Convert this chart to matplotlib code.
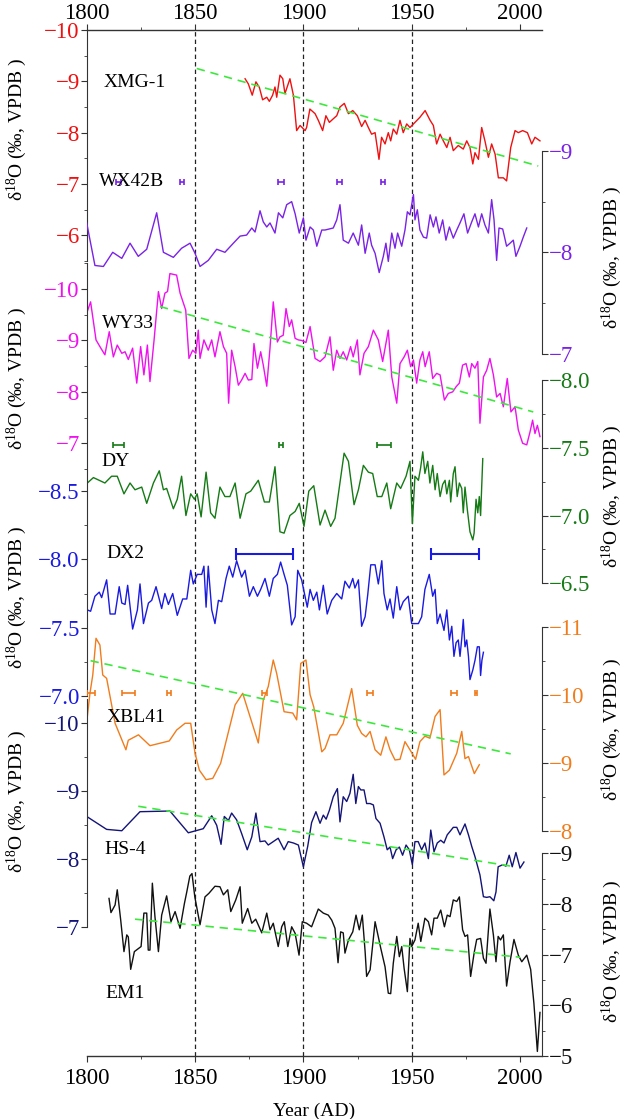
import matplotlib
matplotlib.use('Agg')
import matplotlib.pyplot as plt

plt.rcParams['font.family'] = ['Liberation Serif', 'DejaVu Serif']
plt.rcParams['mathtext.fontset'] = 'custom'
plt.rcParams['mathtext.rm'] = 'Liberation Serif'
plt.rcParams['mathtext.it'] = 'Liberation Serif:italic'

# ---------------------------------------------------------------- data
xmg_year = [1873.1, 1874.6, 1876.4, 1878.1, 1879.7, 1881.2, 1883.1, 1884.3, 1885.8, 1886.9,
            1887.7, 1889.2, 1890.5, 1891.5, 1893.8, 1895.4, 1896.9, 1898.5, 1900.8, 1901.5,
            1903.0, 1905.4, 1906.9, 1908.9, 1910.4, 1912.0, 1913.8, 1915.4, 1916.9, 1918.9,
            1920.8, 1922.8, 1924.9, 1926.9, 1928.5, 1930.0, 1931.5, 1933.1, 1934.9, 1936.1,
            1937.7, 1939.2, 1940.3, 1941.5, 1943.1, 1944.6, 1946.1, 1947.7, 1949.2, 1951.5,
            1953.8, 1956.2, 1958.5, 1960.0, 1961.5, 1963.1, 1964.6, 1966.2, 1967.7, 1969.2,
            1971.5, 1973.8, 1975.4, 1976.9, 1978.2, 1979.2, 1980.8, 1982.3, 1983.8, 1985.4,
            1986.9, 1988.5, 1990.0, 1992.3, 1993.8, 1995.7, 1997.7, 1999.2, 2001.2, 2003.4,
            2005.4, 2006.9, 2009.2]
xmg_d18o = [-9.05, -8.95, -8.73, -8.99, -8.88, -8.64, -8.69, -8.61, -8.73, -8.89,
            -8.69, -9.12, -9.05, -8.76, -9.05, -8.73, -8.04, -8.14, -8.04, -8.10,
            -8.46, -8.37, -8.24, -8.04, -8.33, -8.20, -8.27, -8.33, -8.50, -8.57,
            -8.37, -8.43, -8.33, -8.12, -8.24, -8.10, -7.97, -8.00, -7.48, -7.91,
            -7.78, -8.00, -7.84, -8.07, -7.97, -8.24, -8.00, -8.17, -8.10, -8.20,
            -8.30, -8.43, -8.24, -8.14, -7.78, -7.97, -7.84, -7.71, -7.91, -7.65,
            -7.75, -7.68, -7.84, -7.71, -7.39, -7.61, -7.48, -8.10, -7.84, -7.52,
            -7.78, -7.58, -7.12, -7.12, -7.06, -7.71, -8.04, -8.00, -8.04, -8.00,
            -7.78, -7.91, -7.84]

wx_year = [1800.0, 1803.8, 1807.7, 1812.0, 1816.2, 1820.0, 1823.8, 1827.7, 1832.3, 1835.4,
           1840.0, 1843.8, 1847.7, 1850.0, 1852.3, 1856.1, 1860.0, 1863.8, 1867.7, 1870.8,
           1873.8, 1876.2, 1877.7, 1880.0, 1881.5, 1883.1, 1884.6, 1886.9, 1888.5, 1890.5,
           1892.3, 1894.6, 1896.2, 1898.1, 1900.0, 1901.2, 1903.1, 1904.6, 1906.2, 1908.5,
           1910.0, 1913.8, 1915.4, 1916.9, 1918.4, 1920.8, 1923.0, 1925.4, 1926.9, 1928.5,
           1930.4, 1931.5, 1933.1, 1935.0, 1936.9, 1938.1, 1939.2, 1940.8, 1942.3, 1943.5,
           1945.4, 1946.9, 1948.0, 1949.2, 1950.8, 1951.5, 1952.6, 1953.8, 1955.4, 1956.9,
           1958.5, 1960.0, 1961.2, 1962.7, 1964.3, 1965.8, 1967.4, 1969.2, 1970.8, 1972.3,
           1974.1, 1975.8, 1977.7, 1979.2, 1980.8, 1982.3, 1983.8, 1985.4, 1986.9, 1988.0,
           1989.2, 1990.3, 1992.0, 1993.8, 1995.4, 1996.9, 1998.1, 2000.0, 2001.5, 2003.1]
wx_d18o = [-8.29, -7.87, -7.86, -8.00, -7.94, -8.09, -7.96, -8.03, -8.39, -8.00,
           -7.95, -8.04, -8.09, -7.99, -7.86, -7.92, -8.03, -8.00, -8.09, -8.16,
           -8.17, -8.24, -8.20, -8.41, -8.30, -8.25, -8.29, -8.19, -8.39, -8.34,
           -8.47, -8.50, -8.38, -8.19, -8.34, -8.12, -8.25, -8.22, -8.06, -8.22,
           -8.22, -8.24, -8.32, -8.47, -8.12, -8.09, -8.19, -8.07, -8.27, -7.99,
           -8.19, -8.07, -7.99, -7.80, -7.96, -8.09, -7.91, -8.19, -8.04, -8.19,
           -8.06, -8.22, -8.40, -8.37, -8.57, -8.32, -8.42, -8.22, -8.15, -8.14,
           -8.37, -8.25, -8.35, -8.19, -8.32, -8.12, -8.25, -8.14, -8.22, -8.29,
           -8.38, -8.19, -8.30, -8.38, -8.25, -8.38, -8.27, -8.19, -8.52, -8.32,
           -7.92, -8.24, -8.23, -8.06, -8.09, -8.12, -7.96, -8.06, -8.15, -8.24]

wy_year = [1800.0, 1801.8, 1804.3, 1806.1, 1808.4, 1810.4, 1812.3, 1814.1, 1816.2, 1817.7,
           1819.2, 1821.2, 1823.1, 1824.9, 1826.4, 1828.0, 1829.2, 1831.1, 1833.1, 1834.6,
           1836.1, 1837.3, 1838.4, 1841.5, 1843.1, 1845.7, 1847.2, 1848.9, 1850.4, 1851.5,
           1852.3, 1854.1, 1856.1, 1857.7, 1859.2, 1861.5, 1863.1, 1864.6, 1865.5, 1866.9,
           1868.5, 1870.0, 1871.5, 1873.1, 1874.6, 1876.2, 1877.2, 1878.8, 1880.3, 1881.5,
           1883.1, 1884.6, 1886.1, 1888.0, 1889.2, 1890.7, 1892.0, 1893.5, 1894.6, 1896.2,
           1897.7, 1899.2, 1901.2, 1903.1, 1905.4, 1907.7, 1910.0, 1912.3, 1913.8, 1915.4,
           1916.9, 1918.4, 1920.0, 1921.8, 1923.0, 1924.9, 1926.1, 1928.0, 1930.0, 1932.3,
           1934.6, 1936.6, 1939.2, 1940.8, 1943.1, 1944.6, 1946.5, 1948.0, 1949.5, 1950.8,
           1952.3, 1953.8, 1955.1, 1956.2, 1958.1, 1959.7, 1961.5, 1963.1, 1965.1, 1966.9,
           1968.9, 1970.5, 1972.0, 1973.5, 1975.1, 1976.6, 1977.7, 1979.2, 1980.5, 1981.5,
           1983.1, 1984.6, 1986.1, 1987.7, 1989.2, 1990.8, 1992.3, 1994.1, 1995.8, 1997.7,
           1999.2, 2001.2, 2003.1, 2004.6, 2005.8, 2006.9, 2008.0, 2009.2]
wy_d18o = [-9.53, -9.75, -9.01, -8.88, -8.72, -9.17, -8.68, -8.91, -8.75, -8.78,
           -8.63, -8.85, -8.17, -8.88, -8.33, -8.91, -8.20, -9.01, -9.95, -9.62,
           -9.92, -9.95, -10.30, -10.27, -9.92, -9.59, -8.65, -8.81, -8.75, -9.20,
           -8.65, -9.01, -8.81, -9.01, -8.68, -9.17, -8.88, -8.75, -7.78, -8.81,
           -8.49, -8.13, -8.23, -8.36, -8.23, -8.24, -8.94, -8.46, -8.78, -8.52,
           -8.11, -8.85, -9.75, -8.97, -9.07, -9.10, -9.62, -9.27, -9.40, -9.04,
           -9.01, -9.00, -8.96, -9.27, -8.65, -8.59, -8.68, -9.07, -8.42, -8.81,
           -8.65, -8.78, -8.62, -8.88, -8.68, -9.01, -8.33, -8.75, -8.88, -9.20,
           -9.01, -8.59, -9.20, -8.29, -7.78, -8.55, -8.68, -8.81, -8.49, -8.62,
           -8.17, -8.62, -8.78, -8.49, -8.78, -8.26, -8.36, -8.33, -7.84, -7.97,
           -8.00, -8.10, -8.17, -8.52, -8.55, -8.29, -8.55, -8.46, -8.59, -7.39,
           -8.29, -8.42, -8.65, -8.33, -7.90, -7.97, -7.71, -8.26, -7.61, -7.71,
           -7.26, -7.00, -6.97, -7.22, -7.45, -7.19, -7.35, -7.13]

dy_year = [1800.3, 1803.1, 1808.4, 1811.5, 1814.1, 1817.2, 1820.0, 1822.3, 1825.4, 1827.7,
           1830.8, 1833.5, 1835.4, 1836.9, 1840.0, 1841.8, 1843.8, 1845.8, 1848.0, 1849.7,
           1851.0, 1852.8, 1855.1, 1857.2, 1859.2, 1861.5, 1863.8, 1866.1, 1868.5, 1870.8,
           1873.5, 1875.7, 1879.2, 1882.0, 1884.3, 1886.9, 1889.2, 1891.1, 1893.8, 1896.2,
           1898.1, 1900.3, 1902.5, 1904.8, 1907.7, 1910.0, 1912.6, 1914.6, 1918.8, 1920.8,
           1923.4, 1925.4, 1927.7, 1930.0, 1932.0, 1934.1, 1936.2, 1938.5, 1940.3, 1943.1,
           1944.9, 1947.4, 1949.2, 1950.3, 1951.5, 1953.1, 1954.1, 1955.1, 1956.1, 1957.4,
           1958.4, 1959.7, 1960.8, 1961.8, 1963.1, 1964.3, 1965.4, 1966.2, 1967.4, 1968.0,
           1969.2, 1970.0, 1971.0, 1972.0, 1973.1, 1973.8, 1974.6, 1975.7, 1976.9, 1978.2,
           1978.8, 1979.7, 1980.5, 1981.2, 1981.8, 1982.8]
dy_d18o = [-7.24, -7.28, -7.24, -7.29, -7.29, -7.16, -7.24, -7.19, -7.21, -7.09,
           -7.24, -7.33, -7.19, -7.20, -7.05, -7.12, -7.29, -7.00, -7.16, -7.12,
           -7.16, -6.99, -7.32, -7.02, -6.98, -7.21, -7.14, -7.14, -7.24, -6.98,
           -7.16, -7.18, -7.26, -7.10, -7.10, -7.36, -6.88, -6.87, -7.00, -7.03,
           -7.09, -6.92, -7.18, -7.22, -6.93, -7.04, -6.92, -6.98, -7.46, -7.40,
           -7.08, -7.19, -7.37, -7.32, -7.31, -7.14, -7.14, -7.24, -7.05, -7.24,
           -7.20, -7.29, -7.40, -6.94, -7.29, -7.26, -7.35, -7.47, -7.31, -7.40,
           -7.24, -7.37, -7.19, -7.31, -7.14, -7.23, -7.26, -7.16, -7.26, -7.10,
           -7.31, -7.36, -7.14, -7.24, -7.20, -7.02, -7.21, -7.04, -6.88, -6.82,
           -6.87, -7.12, -7.02, -7.14, -7.00, -7.42]

dx_year = [1800.3, 1801.8, 1803.8, 1805.8, 1806.9, 1809.2, 1810.8, 1813.1, 1815.0, 1816.2,
           1817.7, 1818.9, 1821.2, 1823.4, 1824.6, 1826.2, 1828.5, 1830.0, 1832.0, 1834.6,
           1836.1, 1837.7, 1839.7, 1841.8, 1844.3, 1846.2, 1848.0, 1849.2, 1851.0, 1853.1,
           1854.1, 1855.1, 1856.1, 1857.7, 1859.2, 1860.8, 1862.3, 1864.3, 1865.8, 1867.4,
           1869.2, 1871.5, 1873.1, 1875.1, 1876.9, 1878.8, 1880.3, 1882.3, 1884.3, 1886.1,
           1888.0, 1889.5, 1891.1, 1892.6, 1894.6, 1896.2, 1897.4, 1899.2, 1901.8, 1903.1,
           1904.6, 1906.2, 1907.4, 1909.2, 1911.0, 1913.1, 1915.4, 1917.7, 1919.2, 1921.2,
           1922.8, 1923.8, 1925.4, 1926.9, 1928.5, 1929.7, 1931.1, 1933.1, 1934.6, 1936.2,
           1937.2, 1938.7, 1940.0, 1941.5, 1943.1, 1944.6, 1946.1, 1948.4, 1950.0, 1953.1,
           1954.6, 1956.1, 1958.1, 1959.7, 1960.8, 1961.8, 1963.1, 1964.9, 1966.2, 1967.4,
           1968.5, 1969.5, 1970.5, 1971.5, 1972.3, 1973.1, 1973.8, 1974.6, 1975.4, 1976.2,
           1976.9, 1978.2, 1979.2, 1980.3, 1981.2, 1981.8, 1982.4, 1983.1]
dx_d18o = [-7.63, -7.62, -7.73, -7.76, -7.72, -7.85, -7.60, -7.60, -7.80, -7.68,
           -7.67, -7.81, -7.49, -7.63, -7.82, -7.53, -7.68, -7.70, -7.80, -7.64,
           -7.75, -7.67, -7.75, -7.59, -7.71, -7.71, -7.92, -7.82, -7.89, -7.89,
           -7.95, -7.65, -7.95, -7.63, -7.53, -7.70, -7.69, -7.86, -7.95, -7.87,
           -7.99, -7.87, -7.92, -7.73, -7.80, -7.73, -7.78, -7.86, -7.73, -7.86,
           -7.89, -7.98, -7.89, -7.81, -7.52, -7.58, -7.92, -7.85, -7.65, -7.78,
           -7.70, -7.76, -7.63, -7.81, -7.60, -7.70, -7.75, -7.71, -7.84, -7.79,
           -7.86, -7.79, -7.85, -7.51, -7.58, -7.74, -7.96, -7.96, -7.82, -7.99,
           -7.75, -7.63, -7.71, -7.57, -7.80, -7.63, -7.69, -7.73, -7.53, -7.53,
           -7.58, -7.78, -7.89, -7.73, -7.78, -7.53, -7.60, -7.48, -7.63, -7.41,
           -7.51, -7.29, -7.39, -7.41, -7.29, -7.42, -7.56, -7.36, -7.41, -7.29,
           -7.12, -7.19, -7.26, -7.36, -7.36, -7.15, -7.26, -7.32]

xbl_year = [1800.3, 1801.5, 1802.8, 1804.3, 1806.1, 1807.4, 1809.2, 1810.8, 1813.1, 1818.1,
            1819.2, 1823.9, 1829.2, 1838.1, 1841.5, 1845.4, 1848.0, 1850.0, 1852.0, 1855.1,
            1858.2, 1861.8, 1868.5, 1872.0, 1879.2, 1881.5, 1883.8, 1886.1, 1887.7, 1891.1,
            1895.1, 1896.9, 1898.8, 1901.2, 1903.1, 1904.8, 1908.5, 1910.0, 1912.3, 1915.4,
            1918.4, 1922.3, 1924.9, 1926.9, 1928.9, 1930.8, 1933.1, 1935.7, 1938.1, 1940.0,
            1942.3, 1944.6, 1946.9, 1949.2, 1951.8, 1953.8, 1956.1, 1958.4, 1960.8, 1963.1,
            1964.9, 1967.4, 1970.8, 1973.1, 1974.6, 1976.2, 1978.9, 1981.2]
xbl_d18o = [-9.68, -10.02, -10.29, -10.83, -10.73, -10.29, -10.24, -9.97, -9.58, -9.19,
            -9.33, -9.41, -9.25, -9.32, -9.48, -9.58, -9.58, -9.14, -8.89, -8.75,
            -8.77, -8.99, -9.85, -10.02, -9.29, -9.92, -10.12, -10.51, -10.31, -9.75,
            -9.73, -9.63, -10.46, -10.51, -10.00, -9.82, -9.16, -9.21, -9.41, -9.41,
            -9.58, -10.09, -9.55, -9.43, -9.38, -9.46, -9.19, -9.11, -9.38, -9.19,
            -9.04, -9.05, -9.31, -9.19, -9.05, -9.31, -9.39, -9.36, -9.68, -9.78,
            -8.82, -8.89, -9.14, -9.46, -9.06, -9.09, -8.84, -8.97]

hs_year = [1800.0, 1809.2, 1816.2, 1824.6, 1838.4, 1846.9, 1853.8, 1857.7, 1860.0, 1862.0,
           1863.5, 1865.4, 1866.9, 1869.2, 1871.5, 1874.1, 1876.2, 1878.1, 1880.0, 1882.3,
           1883.8, 1886.1, 1888.4, 1891.1, 1893.0, 1895.4, 1897.7, 1900.0, 1902.0, 1903.8,
           1905.8, 1907.7, 1909.2, 1910.5, 1912.0, 1913.8, 1915.7, 1916.9, 1918.4, 1920.0,
           1921.5, 1923.0, 1924.2, 1925.4, 1926.5, 1928.0, 1929.2, 1930.8, 1932.3, 1933.5,
           1935.4, 1937.2, 1938.7, 1940.0, 1941.2, 1942.8, 1944.3, 1945.8, 1947.4, 1948.9,
           1950.3, 1951.5, 1953.0, 1954.6, 1956.1, 1957.7, 1958.8, 1960.3, 1961.8, 1963.4,
           1964.9, 1966.4, 1967.7, 1969.2, 1970.8, 1972.3, 1974.6, 1976.2, 1977.7, 1979.2,
           1981.5, 1983.1, 1984.6, 1986.1, 1987.9, 1988.9, 1989.9, 1992.0, 1993.5, 1995.0,
           1996.4, 1998.1, 2000.0, 2001.8]
hs_d18o = [-8.63, -8.44, -8.42, -8.70, -8.71, -8.39, -8.45, -8.64, -8.50, -8.22,
           -8.63, -8.57, -8.68, -8.58, -8.38, -8.14, -8.33, -8.68, -8.26, -8.27,
           -8.21, -8.26, -8.31, -8.14, -8.26, -8.24, -8.21, -7.89, -8.19, -8.54,
           -8.70, -8.53, -8.65, -8.59, -8.72, -8.92, -9.04, -8.55, -8.92, -8.85,
           -8.97, -9.25, -8.82, -9.07, -9.02, -9.02, -8.82, -8.82, -8.80, -8.60,
           -8.53, -8.33, -8.14, -8.18, -8.01, -8.14, -8.18, -8.06, -8.21, -8.14,
           -7.92, -8.26, -8.26, -8.14, -8.24, -8.01, -8.43, -8.11, -8.24, -8.28,
           -8.24, -8.36, -8.41, -8.47, -8.47, -8.36, -8.52, -8.36, -8.19, -8.04,
           -7.77, -7.45, -7.44, -7.45, -7.39, -7.52, -7.89, -7.92, -7.90, -8.06,
           -7.89, -8.10, -7.87, -7.96]

em_year = [1810.3, 1811.2, 1813.1, 1814.1, 1815.7, 1817.2, 1818.5, 1819.2, 1820.3, 1822.0,
           1825.1, 1826.4, 1827.7, 1828.4, 1829.2, 1830.3, 1831.5, 1833.1, 1834.6, 1836.9,
           1838.9, 1840.8, 1843.1, 1845.1, 1846.2, 1847.6, 1848.6, 1849.9, 1852.3, 1854.6,
           1856.4, 1859.2, 1861.5, 1863.1, 1865.1, 1866.5, 1868.8, 1870.8, 1871.8, 1874.3,
           1876.2, 1878.0, 1880.8, 1883.1, 1884.6, 1886.1, 1888.4, 1890.0, 1891.2, 1892.8,
           1894.6, 1896.2, 1898.0, 1899.5, 1901.5, 1903.8, 1906.9, 1909.2, 1911.5, 1913.1,
           1914.6, 1916.0, 1917.2, 1918.4, 1919.2, 1920.8, 1922.8, 1924.3, 1925.8, 1927.2,
           1928.5, 1929.2, 1930.8, 1933.1, 1935.7, 1937.7, 1939.2, 1940.3, 1941.5, 1943.1,
           1944.3, 1945.4, 1946.5, 1948.0, 1949.2, 1950.0, 1951.5, 1953.0, 1954.2, 1956.1,
           1957.7, 1959.2, 1960.3, 1961.8, 1963.4, 1965.1, 1966.4, 1967.7, 1969.2, 1970.8,
           1972.0, 1973.5, 1974.6, 1975.8, 1977.2, 1978.8, 1980.0, 1981.8, 1983.1, 1984.3,
           1986.1, 1987.7, 1988.9, 1989.9, 1991.0, 1992.3, 1993.8, 1995.4, 1997.2, 1999.2,
           2000.8, 2003.1, 2004.9, 2006.4, 2008.0, 2009.2]
em_d18o = [-8.11, -7.83, -7.98, -8.28, -7.68, -7.06, -7.39, -7.35, -6.71, -7.06,
           -7.16, -7.82, -7.82, -7.09, -7.09, -8.41, -7.75, -7.06, -7.78, -8.16,
           -7.65, -7.85, -7.52, -8.01, -8.24, -8.55, -8.60, -8.14, -7.59, -8.14,
           -8.21, -8.35, -8.34, -8.18, -8.28, -7.85, -8.08, -8.34, -7.62, -7.91,
           -7.62, -7.70, -7.43, -7.82, -7.49, -7.62, -7.16, -7.55, -7.65, -7.16,
           -7.55, -7.42, -6.99, -7.65, -7.62, -7.55, -7.90, -7.82, -7.78, -7.68,
           -7.52, -6.84, -7.45, -7.43, -7.03, -7.29, -7.45, -7.78, -7.49, -7.78,
           -7.06, -6.57, -6.70, -7.65, -7.13, -6.76, -6.24, -6.23, -6.83, -7.36,
           -6.96, -7.16, -6.73, -6.27, -7.32, -7.16, -7.29, -7.62, -7.26, -7.72,
           -7.65, -7.39, -7.72, -7.72, -7.88, -7.55, -7.78, -7.75, -8.08, -8.05,
           -8.14, -7.49, -7.36, -7.39, -6.57, -7.03, -7.30, -7.32, -6.93, -6.83,
           -7.90, -7.39, -6.86, -7.36, -7.29, -7.39, -6.38, -6.86, -7.30, -6.99,
           -6.86, -6.99, -6.71, -6.04, -5.09, -5.86]

# linear trends (start/end year, start/end value)
xmg_trend = ([1850.8, 2008.4], [-9.25, -7.35])
wy_trend = ([1833.8, 2006.1], [-9.66, -7.61])
xbl_trend = ([1801.8, 1995.7], [-10.50, -9.13])
hs_trend = ([1823.8, 1997.7], [-8.78, -7.89])
em_trend = ([1822.3, 2000.0], [-7.70, -6.95])

# dating uncertainties (centre year, half width)
wx_age = [1814.6, 1843.8, 1889.7, 1916.6, 1936.9]
wx_err = [1.1, 0.9, 1.4, 1.1, 0.9]
dy_age = [1814.7, 1889.8, 1937.2]
dy_err = [2.4, 0.9, 3.1]
dx_age = [1882.1, 1970.1]
dx_err = [13.0, 11.0]
xbl_age = [1802.0, 1819.2, 1838.1, 1882.0, 1930.8, 1969.5, 1979.7]
xbl_err = [1.8, 3.0, 1.0, 1.2, 1.2, 1.2, 0.5]

# ---------------------------------------------------------------- layout
W, H = 625, 1119
PX_L, PX_R, PX_T, PX_B = 86.7, 541.7, 30.0, 1056.0
rect = [PX_L / W, 1 - PX_B / H, (PX_R - PX_L) / W, (PX_B - PX_T) / H]
TICK_FS = 16.5
trend_color = '#3de83d'
trend_ls = (0, (5, 3.5))

fig = plt.figure(figsize=(W / 100, H / 100), dpi=100)

ax0 = fig.add_axes(rect)
ax0.set_xlim(1800, 2010)
ax0.set_ylim(0, 1)
ax0.spines['left'].set_visible(False)
ax0.spines['right'].set_visible(False)
for s in ('top', 'bottom'):
    ax0.spines[s].set_color('#333333')
    ax0.spines[s].set_linewidth(1.0)
ax0.set_yticks([])
ax0.set_xticks(range(1800, 2001, 50))
ax0.set_xticks(range(1825, 2001, 50), minor=True)
ax0.tick_params(axis='x', which='both', top=True, bottom=True, direction='out',
                labelsize=TICK_FS, color='#333333', pad=4.5)
ax0.tick_params(axis='x', which='major', length=4)
ax0.tick_params(axis='x', which='minor', length=2.5)
ax0.set_xlabel('Year (AD)', fontsize=14, labelpad=10)
for yr in (1850, 1900, 1950):
    ax0.axvline(yr, color='#222222', lw=0.9, ls=(0, (3.5, 2.5)))

# top year labels (own pad)
axt = ax0.secondary_xaxis('top')
axt.set_xticks(range(1800, 2001, 50))
axt.tick_params(axis='x', which='both', length=0, labelsize=TICK_FS, pad=4)
axt.spines['top'].set_visible(False)


def layer(side, p1, v1, p2, v2, lo, hi, major, minor, color):
    # separate y scale sharing the same box; spine only over [lo, hi]
    ax = fig.add_axes(rect)
    ax.patch.set_visible(False)
    ax.set_xlim(1800, 2010)
    k = (v2 - v1) / (p2 - p1)
    ax.set_ylim(v1 + (PX_B - p1) * k, v1 + (PX_T - p1) * k)
    for s in ('top', 'bottom', 'left', 'right'):
        ax.spines[s].set_visible(s == side)
    ax.spines[side].set_bounds(lo, hi)
    ax.spines[side].set_color('#333333')
    ax.xaxis.set_visible(False)
    ax.yaxis.set_ticks_position(side)
    ax.set_yticks(major)
    ax.set_yticks(minor, minor=True)
    ax.tick_params(axis='y', which='both', direction='out', color='#333333',
                   labelcolor=color, labelsize=TICK_FS, pad=1)
    ax.tick_params(axis='y', which='major', length=4)
    ax.tick_params(axis='y', which='minor', length=2.5)
    return ax


# XMG-1
ax = layer('left', 30.0, -10, 235.3, -6, -10, -5.5,
           [-10, -9, -8, -7, -6], [-9.5, -8.5, -7.5, -6.5, -5.5], '#ee1111')
ax.plot(xmg_year, xmg_d18o, color='#ee1111', lw=1.0)
ax.plot(*xmg_trend, color=trend_color, lw=1.2, ls=trend_ls)

# WX42B
ax = layer('right', 151.0, -9, 353.6, -7, -9, -7,
           [-9, -8, -7], [-8.5, -7.5], '#7a22e6')
ax.plot(wx_year, wx_d18o, color='#7a22e6', lw=1.0)
ax.errorbar(wx_age, [-8.69] * len(wx_age), xerr=wx_err, fmt='none',
            ecolor='#7a22e6', elinewidth=1.2, capsize=2.2, capthick=1.2)

# WY33
ax = layer('left', 289.0, -10, 443.3, -7, -10.5, -6.5,
           [-10, -9, -8, -7], [-10.5, -9.5, -8.5, -7.5, -6.5], '#ee11ee')
ax.plot(wy_year, wy_d18o, color='#ee11ee', lw=1.0)
ax.plot(*wy_trend, color=trend_color, lw=1.2, ls=trend_ls)

# DY
ax = layer('right', 380.0, -8, 583.3, -6.5, -8, -6.5,
           [-8.0, -7.5, -7.0, -6.5], [-7.75, -7.25, -6.75], '#157a15')
ax.plot(dy_year, dy_d18o, color='#157a15', lw=1.0)
ax.errorbar(dy_age, [-7.52] * len(dy_age), xerr=dy_err, fmt='none',
            ecolor='#157a15', elinewidth=1.2, capsize=2.2, capthick=1.2)

# DX2
ax = layer('left', 491.0, -8.5, 696.0, -7.0, -8.65, -7.0,
           [-8.5, -8.0, -7.5, -7.0], [-8.25, -7.75, -7.25], '#1a1ae0')
ax.plot(dx_year, dx_d18o, color='#1a1ae0', lw=1.0)
ax.errorbar(dx_age, [-8.04] * len(dx_age), xerr=dx_err, fmt='none',
            ecolor='#1a1ae0', elinewidth=1.5, capsize=4, capthick=1.5)

# XBL41
ax = layer('right', 626.7, -11, 830.7, -8, -11, -8,
           [-11, -10, -9, -8], [-10.5, -9.5, -8.5], '#f07c1c')
ax.plot(xbl_year, xbl_d18o, color='#f07c1c', lw=1.0)
ax.plot(*xbl_trend, color=trend_color, lw=1.2, ls=trend_ls)
ax.errorbar(xbl_age, [-10.02] * len(xbl_age), xerr=xbl_err, fmt='none',
            ecolor='#f07c1c', elinewidth=1.2, capsize=2.2, capthick=1.2)

# HS-4
ax = layer('left', 723.3, -10, 927.3, -7, -10.35, -7,
           [-10, -9, -8, -7], [-9.5, -8.5, -7.5], '#141478')
ax.plot(hs_year, hs_d18o, color='#141478', lw=1.0)
ax.plot(*hs_trend, color=trend_color, lw=1.2, ls=trend_ls)

# EM1
ax = layer('right', 853.3, -9, 1056.0, -5, -9, -5,
           [-9, -8, -7, -6, -5], [-8.5, -7.5, -6.5, -5.5], '#111111')
ax.plot(em_year, em_d18o, color='#111111', lw=1.0)
ax.plot(*em_trend, color=trend_color, lw=1.2, ls=trend_ls)

# record names
names = [('XMG-1', 104, 82.7), ('WX42B', 99, 181), ('WY33', 101.5, 323.3),
         ('DY', 101.5, 461), ('DX2', 106, 553), ('XBL41', 106.5, 717),
         ('HS-4', 104, 849), ('EM1', 105.5, 993)]
for txt, x, y in names:
    fig.text(x / W, 1 - y / H, txt, fontsize=14, ha='left', va='center')

# axis titles
ylab = 'δ$^{18}$O (‰, VPDB )'
for x, y in [(17, 130), (17, 379), (17, 598), (17, 802),
             (612, 258), (612, 497), (612, 730), (612, 952)]:
    fig.text(x / W, 1 - y / H, ylab, fontsize=14, rotation=90,
             ha='center', va='center')

fig.savefig('out.png', dpi=100)
